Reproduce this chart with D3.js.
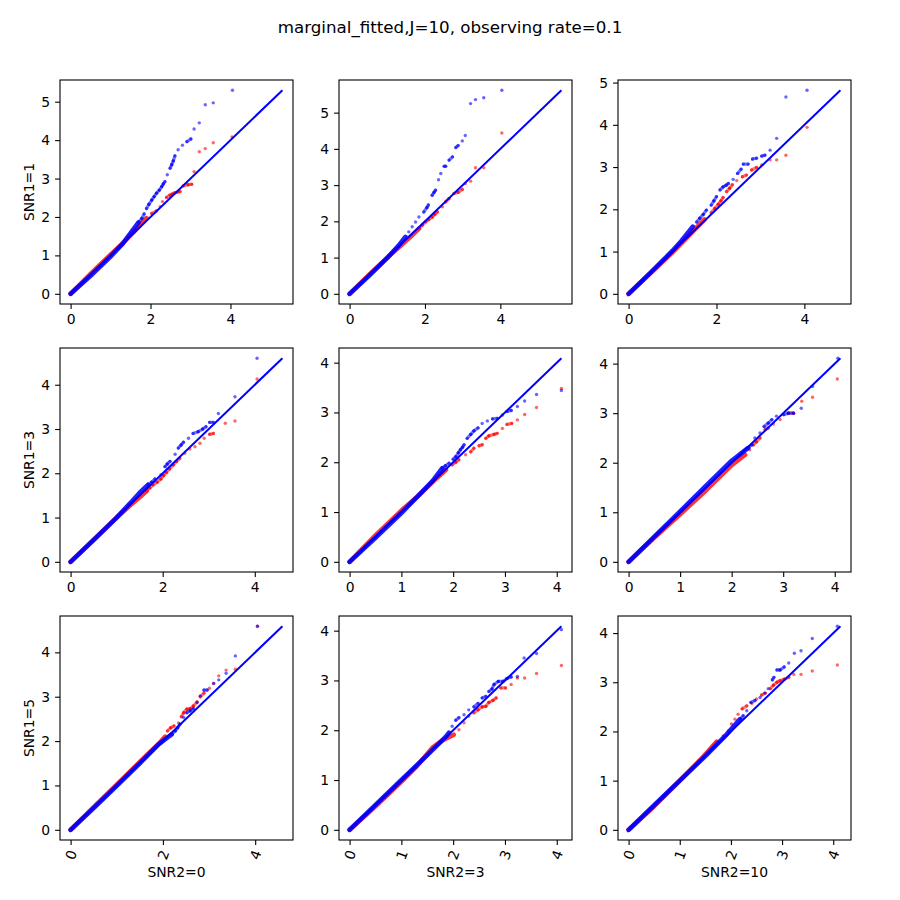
<!DOCTYPE html>
<html><head><meta charset="utf-8">
<script src="https://cdn.jsdelivr.net/npm/d3@7"></script>
<style>
body{margin:0;background:#fff;}
text{font-family:"DejaVu Sans",sans-serif;fill:#000;}
</style></head>
<body><svg id="c" width="900" height="900"></svg>
<script>
const title = "marginal_fitted,J=10, observing rate=0.1";
const rowLabels = ["SNR1=1","SNR1=3","SNR1=5"];
const colLabels = ["SNR2=0","SNR2=3","SNR2=10"];
const xTicks = [[0,2,4],[0,2,4],[0,2,4],[0,2,4],[0,1,2,3,4],[0,1,2,3,4],[0,2,4],[0,1,2,3,4],[0,1,2,3,4]];
const yTicks = [[0,1,2,3,4,5],[0,1,2,3,4,5],[0,1,2,3,4,5],[0,1,2,3,4],[0,1,2,3,4],[0,1,2,3,4],[0,1,2,3,4],[0,1,2,3,4],[0,1,2,3,4]];

// dense (overlapping) part of each red series, per panel
const redDense = [
 [[0,0],[0.5,0.52],[1.0,1.02],[1.3,1.31],[1.6,1.63],[1.9,1.97]],
 [[0,0],[0.5,0.51],[1.0,1.0],[1.3,1.28],[1.6,1.56],[1.84,1.80]],
 [[0,0],[0.5,0.49],[1.0,0.98],[1.3,1.3],[1.5,1.52],[1.73,1.76]],
 [[0,0],[0.5,0.5],[1.0,1.0],[1.3,1.28],[1.5,1.46],[1.65,1.60]],
 [[0,0],[0.5,0.53],[1.0,1.03],[1.3,1.3],[1.6,1.6],[1.86,1.85]],
 [[0,0],[0.5,0.49],[1.0,0.96],[1.5,1.44],[2.0,1.95],[2.26,2.16]],
 [[0,0],[0.5,0.51],[1.0,1.02],[1.5,1.53],[1.9,1.93],[2.05,2.1]],
 [[0,0],[0.5,0.47],[1.0,0.97],[1.3,1.28],[1.6,1.65],[1.8,1.8],[2.01,1.91]],
 [[0,0],[0.5,0.48],[1.0,1.0],[1.4,1.42],[1.72,1.79]]
];
// sparse upper tail of each red series
const redTail = [
 [[2.03,2.09],[2.15,2.16],[2.24,2.27],[2.3,2.4],[2.40,2.51],[2.49,2.57],[2.55,2.6],[2.61,2.63],[2.68,2.65],[2.74,2.66],[2.82,2.81],[2.94,2.84],[3.03,2.85],[3.09,3.18],[3.22,3.70],[3.37,3.78],[3.57,3.93],[4.04,4.08]],
 [[1.93,1.90],[2.02,1.99],[2.10,2.05],[2.19,2.12],[2.26,2.19],[2.33,2.26],[2.46,2.40],[2.55,2.54],[2.64,2.63],[2.77,2.77],[2.88,2.80],[2.99,2.88],[3.07,3.04],[3.21,3.11],[3.34,3.48],[3.56,3.48],[4.04,4.44]],
 [[1.88,1.92],[1.96,2.02],[2.04,2.12],[2.10,2.20],[2.15,2.28],[2.23,2.42],[2.30,2.50],[2.36,2.58],[2.46,2.68],[2.59,2.77],[2.68,2.81],[2.80,2.93],[2.91,2.99],[3.03,3.05],[3.22,3.17],[3.37,3.17],[3.58,3.28],[4.06,3.94]],
 [[1.72,1.67],[1.79,1.74],[1.88,1.80],[1.96,1.87],[2.02,1.95],[2.08,2.02],[2.15,2.10],[2.23,2.19],[2.30,2.27],[2.37,2.34],[2.48,2.45],[2.59,2.55],[2.70,2.60],[2.81,2.68],[2.90,2.79],[3.02,2.88],[3.10,2.90],[3.36,3.13],[3.57,3.18],[4.05,4.13]],
 [[1.98,1.95],[2.05,2.0],[2.11,2.05],[2.24,2.15],[2.34,2.21],[2.40,2.28],[2.50,2.33],[2.56,2.35],[2.63,2.48],[2.69,2.53],[2.79,2.56],[2.85,2.58],[2.95,2.68],[3.04,2.76],[3.13,2.78],[3.24,2.85],[3.38,2.96],[3.61,3.10],[4.09,3.48]],
 [[2.35,2.26],[2.42,2.36],[2.48,2.42],[2.55,2.50],[2.65,2.67],[2.71,2.70],[2.81,2.78],[2.94,2.87],[3.10,3.0],[3.20,3.0],[3.36,3.24],[3.57,3.32],[4.05,3.69]],
 [[2.10,2.23],[2.17,2.30],[2.24,2.34],[2.34,2.41],[2.40,2.55],[2.45,2.64],[2.52,2.72],[2.59,2.73],[2.66,2.79],[2.74,2.88],[2.81,3.0],[2.89,3.08],[3.01,3.19],[3.10,3.30],[3.21,3.47],[3.37,3.60],[3.57,3.62],[4.05,4.59]],
 [[2.11,2.01],[2.21,2.15],[2.30,2.28],[2.40,2.35],[2.48,2.41],[2.56,2.47],[2.63,2.48],[2.69,2.56],[2.77,2.60],[2.83,2.65],[2.92,2.85],[3.01,2.85],[3.12,2.92],[3.24,3.05],[3.38,3.05],[3.61,3.14],[4.09,3.30]],
 [[1.85,1.91],[1.95,2.01],[2.01,2.15],[2.08,2.25],[2.14,2.35],[2.22,2.46],[2.31,2.52],[2.41,2.57],[2.50,2.66],[2.60,2.74],[2.67,2.78],[2.77,2.87],[2.83,2.94],[2.90,3.0],[2.96,3.03],[3.04,3.06],[3.13,3.10],[3.23,3.16],[3.37,3.16],[3.59,3.23],[4.08,3.35]]
];
// dense part of each blue series
const blueDense = [
 [[0,0],[0.5,0.47],[1.0,0.97],[1.3,1.3],[1.5,1.58],[1.7,1.86]],
 [[0,0],[0.5,0.48],[1.0,0.99],[1.3,1.33],[1.48,1.57]],
 [[0,0],[0.5,0.5],[1.0,1.02],[1.2,1.25],[1.46,1.59]],
 [[0,0],[0.5,0.49],[1.0,1.0],[1.3,1.33],[1.5,1.56],[1.68,1.74]],
 [[0,0],[0.5,0.48],[1.0,0.98],[1.3,1.3],[1.6,1.62],[1.79,1.88]],
 [[0,0],[0.5,0.51],[1.0,1.02],[1.5,1.53],[2.0,2.04],[2.32,2.30]],
 [[0,0],[0.5,0.49],[1.0,0.99],[1.5,1.5],[1.9,1.92],[2.1,2.08],[2.19,2.15]],
 [[0,0],[0.5,0.5],[1.0,1.0],[1.5,1.5],[1.85,1.86],[1.92,1.95]],
 [[0,0],[0.5,0.5],[1.0,1.0],[1.5,1.5],[1.9,1.92],[2.18,2.25]]
];
// sparse upper tail of each blue series
const blueTail = [
 [[1.78,1.96],[1.84,2.08],[1.90,2.22],[1.96,2.33],[2.03,2.44],[2.09,2.53],[2.15,2.62],[2.22,2.70],[2.28,2.79],[2.32,2.86],[2.36,2.92],[2.42,3.10],[2.49,3.27],[2.53,3.36],[2.57,3.46],[2.61,3.59],[2.69,3.75],[2.80,3.87],[2.91,3.96],[3.01,4.03],[3.09,4.29],[3.22,4.45],[3.37,4.92],[3.57,4.97],[4.05,5.3]],
 [[1.57,1.71],[1.66,1.85],[1.75,1.98],[1.84,2.12],[1.97,2.26],[2.05,2.38],[2.09,2.45],[2.19,2.72],[2.24,2.80],[2.28,2.86],[2.36,3.15],[2.42,3.32],[2.51,3.52],[2.55,3.52],[2.64,3.69],[2.73,3.78],[2.82,4.04],[2.88,4.09],[2.99,4.22],[3.07,4.37],[3.21,5.25],[3.34,5.36],[3.56,5.41],[4.04,5.62]],
 [[1.55,1.70],[1.62,1.79],[1.70,1.88],[1.77,1.98],[1.88,2.10],[1.94,2.20],[2.0,2.30],[2.08,2.46],[2.15,2.53],[2.22,2.57],[2.27,2.61],[2.38,2.71],[2.48,2.85],[2.56,2.95],[2.61,3.07],[2.72,3.07],[2.82,3.19],[2.91,3.21],[3.03,3.26],[3.10,3.28],[3.22,3.40],[3.37,3.68],[3.58,4.66],[4.06,4.82]],
 [[1.76,1.80],[1.83,1.87],[1.96,1.96],[2.05,2.15],[2.10,2.21],[2.16,2.27],[2.27,2.43],[2.34,2.57],[2.40,2.64],[2.45,2.70],[2.56,2.79],[2.66,2.90],[2.77,2.94],[2.87,3.0],[2.94,3.05],[3.02,3.15],[3.10,3.15],[3.21,3.35],[3.57,3.73],[4.05,4.6]],
 [[1.85,1.93],[1.92,1.98],[2.0,2.06],[2.05,2.11],[2.10,2.19],[2.14,2.25],[2.18,2.30],[2.21,2.35],[2.27,2.48],[2.34,2.56],[2.40,2.63],[2.48,2.69],[2.56,2.78],[2.66,2.83],[2.76,2.87],[2.85,2.88],[2.95,2.95],[3.04,3.02],[3.12,3.04],[3.24,3.12],[3.38,3.23],[3.61,3.36],[4.09,3.44]],
 [[2.39,2.36],[2.45,2.50],[2.55,2.60],[2.63,2.73],[2.71,2.80],[2.78,2.87],[2.87,2.94],[3.01,2.97],[3.10,3.0],[3.20,3.0],[3.35,3.10],[3.57,3.54],[4.06,4.11]],
 [[2.27,2.23],[2.32,2.30],[2.37,2.38],[2.45,2.53],[2.52,2.64],[2.59,2.68],[2.66,2.73],[2.74,2.87],[2.81,3.02],[2.89,3.15],[2.96,3.15],[3.10,3.30],[3.21,3.38],[3.37,3.53],[3.57,3.92],[4.05,4.59]],
 [[1.98,2.08],[2.05,2.20],[2.11,2.25],[2.21,2.31],[2.30,2.41],[2.40,2.47],[2.48,2.54],[2.56,2.65],[2.63,2.68],[2.69,2.78],[2.75,2.83],[2.79,2.92],[2.87,2.98],[2.96,2.98],[3.04,3.04],[3.12,3.07],[3.24,3.08],[3.37,3.45],[3.61,3.54],[4.09,4.02]],
 [[2.24,2.32],[2.31,2.42],[2.39,2.59],[2.47,2.63],[2.57,2.69],[2.66,2.78],[2.73,2.87],[2.81,3.05],[2.84,3.10],[2.90,3.25],[2.96,3.25],[3.04,3.31],[3.13,3.39],[3.24,3.59],[3.37,3.64],[3.59,3.89],[4.08,4.14]]
];

const svg = d3.select("#c");
const colLeft = [60, 339, 618], rowTop = [80, 348, 616];
const W = 233, H = 224;
const FS = 13.9;
const RED = "#ff0000", BLUE = "#0000ff";

svg.append("text").attr("x", 450).attr("y", 33).attr("text-anchor", "middle")
  .style("font-size", "16.7px").text(title);

function drawSeries(g, dense, tail, color, x, y, line, denseOpacity) {
  g.append("path").datum(dense).attr("d", line).attr("fill", "none")
    .attr("stroke", color).attr("stroke-width", 4.6).attr("stroke-opacity", denseOpacity)
    .attr("stroke-linecap", "round").attr("stroke-linejoin", "round");
  // link the last dense point and tail points that sit close together on screen (overlapping dots)
  const chain = [dense[dense.length - 1]].concat(tail);
  const segs = [];
  for (let k = 1; k < chain.length; k++) {
    const dx = x(chain[k][0]) - x(chain[k - 1][0]), dy = y(chain[k][1]) - y(chain[k - 1][1]);
    if (Math.hypot(dx, dy) < 5.5) segs.push([chain[k - 1], chain[k]]);
  }
  g.selectAll(null).data(segs).join("path").attr("d", line).attr("fill", "none")
    .attr("stroke", color).attr("stroke-width", 3.2).attr("stroke-opacity", 0.55)
    .attr("stroke-linecap", "round");
  g.selectAll(null).data(tail).join("circle")
    .attr("cx", d => x(d[0])).attr("cy", d => y(d[1])).attr("r", 1.7)
    .attr("fill", color).attr("fill-opacity", 0.6);
}

for (let r = 0; r < 3; r++) {
  for (let c = 0; c < 3; c++) {
    const i = r * 3 + c;
    const all = [].concat(redDense[i], redTail[i], blueDense[i], blueTail[i]);
    const m = d3.max(all, d => Math.max(d[0], d[1]));
    const L = colLeft[c], T = rowTop[r];
    const x = d3.scaleLinear().domain([-0.05 * m, 1.05 * m]).range([L, L + W]);
    const y = d3.scaleLinear().domain([-0.05 * m, 1.05 * m]).range([T + H, T]);
    const g = svg.append("g");
    const line = d3.line().x(d => x(d[0])).y(d => y(d[1]));

    drawSeries(g, redDense[i], redTail[i], RED, x, y, line, 0.8);
    drawSeries(g, blueDense[i], blueTail[i], BLUE, x, y, line, 0.88);

    // reference line
    g.append("path").datum([[0, 0], [m, m]]).attr("d", line)
      .attr("stroke", BLUE).attr("stroke-width", 2).attr("fill", "none");

    // frame
    g.append("rect").attr("x", L).attr("y", T).attr("width", W).attr("height", H)
      .attr("fill", "none").attr("stroke", "#000").attr("stroke-width", 1.1);

    // axes
    const ax = g.append("g").attr("transform", `translate(0,${T + H})`)
      .call(d3.axisBottom(x).tickValues(xTicks[i]).tickFormat(d3.format("d")).tickSize(4.9).tickPadding(4.9));
    const ay = g.append("g").attr("transform", `translate(${L},0)`)
      .call(d3.axisLeft(y).tickValues(yTicks[i]).tickFormat(d3.format("d")).tickSize(4.9).tickPadding(4.9));
    [ax, ay].forEach(a => {
      a.select(".domain").remove();
      a.selectAll(".tick line").attr("stroke", "#000").attr("stroke-width", 1.1);
      a.selectAll(".tick text").style("font-size", FS + "px").style("font-family", "DejaVu Sans").attr("fill", "#000");
    });
    if (r === 2) {
      ax.selectAll(".tick text").attr("y", 0).attr("dy", "0.35em")
        .attr("text-anchor", "middle").attr("transform", "translate(0,15) rotate(-70)");
      svg.append("text").attr("x", L + W / 2).attr("y", 877).attr("text-anchor", "middle")
        .style("font-size", FS + "px").text(colLabels[c]);
    }
    if (c === 0) {
      svg.append("text").attr("transform", `translate(33.5,${T + H / 2}) rotate(-90)`)
        .attr("text-anchor", "middle").style("font-size", FS + "px").text(rowLabels[r]);
    }
  }
}
</script></body></html>
